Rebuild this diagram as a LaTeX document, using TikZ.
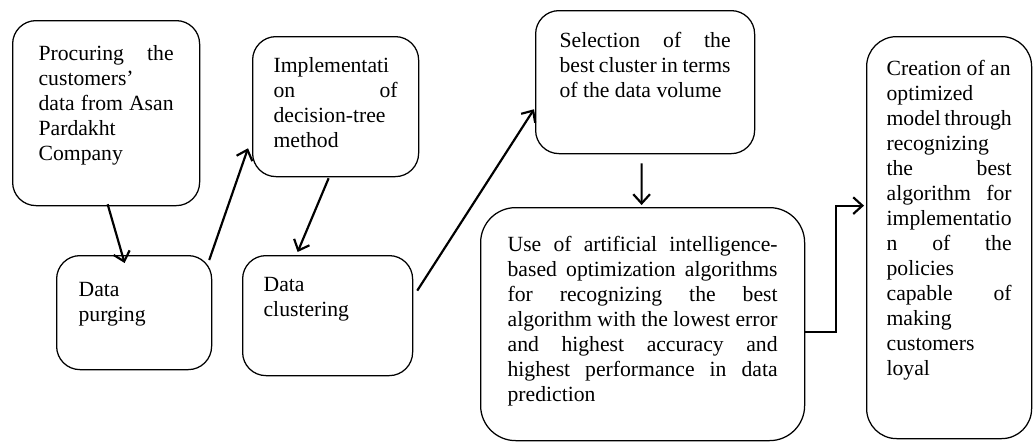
\documentclass[tikz,border=0pt]{standalone}
\usepackage{fontspec}
\setmainfont{Liberation Serif}
\usetikzlibrary{arrows.meta,positioning,calc}

% top-aligned text block inside a box, and a line stretched to full width
\newcommand{\boxtext}[3]{\parbox[t][#2][t]{#1}{\raggedright #3}}
\newcommand{\jline}[1]{\makebox[\linewidth][s]{#1}}

\begin{document}
\begin{tikzpicture}[
  x=0.6pt, y=-0.6pt,
  font=\fontsize{13}{15}\selectfont,
  >={Straight Barb[length=5.5pt,width=10pt]},
  stagebox/.style={draw, line width=0.75pt, rounded corners=14pt, inner sep=0pt, anchor=north west},
  flow/.style={->, line width=1.3pt}
]

  \useasboundingbox (0,0) rectangle (1033,443);

  % Left column: data preparation
  \node[stagebox, minimum width=112.2pt, minimum height=111pt] (procure) at (12,20) {\boxtext{81pt}{81pt}{%
    \jline{Procuring the}\\ customers’\\ \jline{data from Asan}\\ Pardakht\\ Company}};

  \node[stagebox, minimum width=93pt, minimum height=68.4pt] (purge) at (56,255) {\boxtext{66.6pt}{36pt}{%
    Data\\ purging}};

  % Middle column: decision tree and clustering
  \node[stagebox, minimum width=99.6pt, minimum height=84pt] (implement) at (252,36) {\boxtext{74.4pt}{58.8pt}{%
    Implementati\\ \jline{on of}\\ decision-tree\\ method}};

  \node[stagebox, minimum width=102pt, minimum height=72pt] (cluster) at (242,255) {\boxtext{76.8pt}{45.6pt}{%
    Data\\ clustering}};

  % Right part: selection and optimization
  \node[stagebox, minimum width=131.4pt, minimum height=85.8pt] (select) at (535,10) {\boxtext{102.6pt}{59.4pt}{%
    \jline{Selection of the}\\ \jline{best cluster in terms}\\ of the data volume}};

  \node[stagebox, rounded corners=21pt, minimum width=194.4pt, minimum height=139.8pt] (useai) at (480,207) {\boxtext{162pt}{105pt}{%
    \jline{Use of artificial intelligence-}\\
    \jline{based optimization algorithms}\\
    \jline{for recognizing the best}\\
    \jline{algorithm with the lowest error}\\
    \jline{and highest accuracy and}\\
    \jline{highest performance in data}\\
    prediction}};

  \node[stagebox, rounded corners=18pt, minimum width=99pt, minimum height=241.2pt] (create) at (866,36) {\boxtext{75pt}{212.4pt}{%
    Creation of an\\ optimized\\ \jline{model through}\\ recognizing\\ \jline{the best}\\
    \jline{algorithm for}\\ implementatio\\ \jline{n of the}\\ policies\\ \jline{capable of}\\
    making\\ customers\\ loyal}};

  % Connectors
  \draw[flow] ($(procure.south)+(1.5,-2)$) -- ($(purge.north)+(-9.5,8)$);
  \draw[flow] ($(purge.north east)+(-3,5)$) -- ($(implement.south west)+(-4,-29)$);
  \draw[flow] ($(implement.south)+(-7,1)$) -- ($(cluster.north)+(-30,-3)$);
  \draw[flow] ($(cluster.east)+(4,-25)$) -- ($(select.south west)+(-1,-45)$);
  \draw[flow] ($(select.south)+(-3.5,9)$) -- ($(useai.north)+(-1,-2)$);
  \draw[flow] ($(useai.east)+(0,7.5)$) -- ++(31,0) |- ($(create.west)+(-2,-32)$);

\end{tikzpicture}
\end{document}
